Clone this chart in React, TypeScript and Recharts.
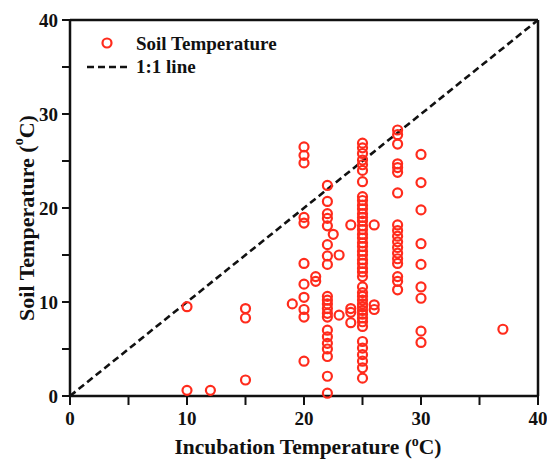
import { ScatterChart, Scatter, XAxis, YAxis, ReferenceLine, Label } from 'recharts';

// soil temperature readings, grouped by incubation temperature (ºC)
const incubationTemps = [10, 12, 15, 19, 20, 21, 22, 22.5, 23, 24, 25, 26, 28, 30, 37];
const soilAt10 = [9.5, 0.6];
const soilAt12 = [0.6];
const soilAt15 = [9.3, 8.3, 1.7];
const soilAt19 = [9.8];
const soilAt20 = [26.5, 25.6, 24.8, 19.0, 18.4, 14.1, 11.9, 10.5, 9.2, 8.4, 3.7];
const soilAt21 = [12.7, 12.2];
const soilAt22 = [22.4, 20.7, 19.4, 18.9, 18.1, 16.1, 14.9, 14.0, 10.6, 10.2, 9.8, 9.3, 8.8, 8.4, 7.0, 6.3, 5.6, 5.0, 4.2, 2.1, 0.3];
const soilAt22_5 = [17.2];
const soilAt23 = [15.0, 8.6];
const soilAt24 = [18.2, 9.3, 8.9, 7.8];
const soilAt25 = [
  26.9, 26.4, 25.8, 25.1, 24.6, 24.0, 22.8, 21.2, 20.8, 20.3, 19.9, 19.4, 19.0, 18.6, 18.1, 17.7, 17.2, 16.8,
  16.3, 15.9, 15.4, 15.0, 14.5, 14.1, 13.6, 13.2, 12.7, 11.6, 11.0, 10.6, 10.2, 9.8, 9.5, 9.1, 8.7, 8.3, 7.9,
  7.4, 5.8, 5.1, 4.4, 3.7, 3.0, 1.9,
];
const soilAt26 = [18.2, 9.7, 9.2];
const soilAt28 = [28.3, 27.8, 26.8, 24.7, 24.3, 23.8, 21.6, 18.2, 17.6, 17.0, 16.4, 15.8, 15.2, 14.6, 14.1, 12.7, 12.2, 11.3];
const soilAt30 = [25.7, 22.7, 19.8, 16.2, 14.0, 11.6, 10.4, 6.9, 5.7];
const soilAt37 = [7.1];

const soilColumns = [
  soilAt10, soilAt12, soilAt15, soilAt19, soilAt20, soilAt21, soilAt22, soilAt22_5,
  soilAt23, soilAt24, soilAt25, soilAt26, soilAt28, soilAt30, soilAt37,
];

const axisTicks = [0, 5, 10, 15, 20, 25, 30, 35, 40];
const labelledTicks = [0, 10, 20, 30, 40];

const points = incubationTemps.flatMap((x, i) => soilColumns[i].map((y) => ({ x, y })));

const RED = '#ff2b1c';
const FONT = '"Liberation Serif", "Times New Roman", serif';
const axisStroke = { stroke: '#111', strokeWidth: 2.5 };
const tickStroke = { stroke: '#111', strokeWidth: 2 };
const tickText = { fontFamily: FONT, fontWeight: 'bold', fontSize: 19, fill: '#111' };
const fmt = (v: number) => (labelledTicks.includes(v) ? String(v) : '');

const Ring = (props: any) => (
  <circle cx={props.cx} cy={props.cy} r={4.5} fill="none" stroke={RED} strokeWidth={2.2} />
);

const XTitle = ({ viewBox }: any) => (
  <text x={viewBox.x + viewBox.width / 2 + 4} y={viewBox.y + 58} textAnchor="middle"
    fontFamily={FONT} fontWeight="bold" fontSize={21.5} fill="#111">
    Incubation Temperature (<tspan dy={-8} fontSize={14}>o</tspan><tspan dy={8}>C)</tspan>
  </text>
);

const YTitle = ({ viewBox }: any) => {
  const cx = 18;
  const cy = viewBox.y + viewBox.height / 2 + 10;
  return (
    <text x={cx} y={cy} transform={`rotate(-90 ${cx} ${cy})`} textAnchor="middle" dominantBaseline="central"
      fontFamily={FONT} fontWeight="bold" fontSize={22} fill="#111">
      Soil Temperature (<tspan dy={-8} fontSize={14}>o</tspan><tspan dy={8}>C)</tspan>
    </text>
  );
};

export default function App() {
  return (
    <div style={{ position: 'relative', width: 547, height: 468 }}>
      <ScatterChart width={547} height={468} margin={{ top: 2, right: 7, bottom: 50, left: 2 }}>
        <XAxis dataKey="x" type="number" domain={[0, 40]} ticks={axisTicks} tickFormatter={fmt}
          height={30} tickSize={9} tickMargin={7} axisLine={axisStroke} tickLine={tickStroke} tick={tickText}>
          <Label content={XTitle} />
        </XAxis>
        <XAxis xAxisId="top" orientation="top" type="number" domain={[0, 40]} ticks={axisTicks}
          allowDataOverflow height={10} tickSize={10} axisLine={axisStroke} tickLine={tickStroke} tick={false} />
        <YAxis dataKey="y" type="number" domain={[0, 40]} ticks={axisTicks} tickFormatter={fmt}
          width={60} tickSize={8} tickMargin={4} axisLine={axisStroke} tickLine={tickStroke} tick={tickText}>
          <Label content={YTitle} />
        </YAxis>
        <YAxis yAxisId="right" orientation="right" type="number" domain={[0, 40]} ticks={axisTicks}
          allowDataOverflow width={10} tickSize={6} axisLine={axisStroke} tickLine={tickStroke} tick={false} />
        <Scatter data={points} shape={Ring} isAnimationActive={false} />
        <ReferenceLine segment={[{ x: 0, y: 0 }, { x: 40, y: 40 }]} stroke="#111" strokeWidth={2.6}
          strokeDasharray="7 4" ifOverflow="visible" />
      </ScatterChart>
      <svg width={547} height={468} style={{ position: 'absolute', left: 0, top: 0, pointerEvents: 'none' }}>
        <circle cx={99} cy={35} r={4.5} fill="none" stroke={RED} strokeWidth={2.2} />
        <text x={128} y={42} fontFamily={FONT} fontWeight="bold" fontSize={19} fill="#111">Soil Temperature</text>
        <line x1={79} y1={59} x2={119} y2={59} stroke="#111" strokeWidth={2.6} strokeDasharray="7 4" />
        <text x={128} y={65} fontFamily={FONT} fontWeight="bold" fontSize={19} fill="#111">1:1 line</text>
      </svg>
    </div>
  );
}
